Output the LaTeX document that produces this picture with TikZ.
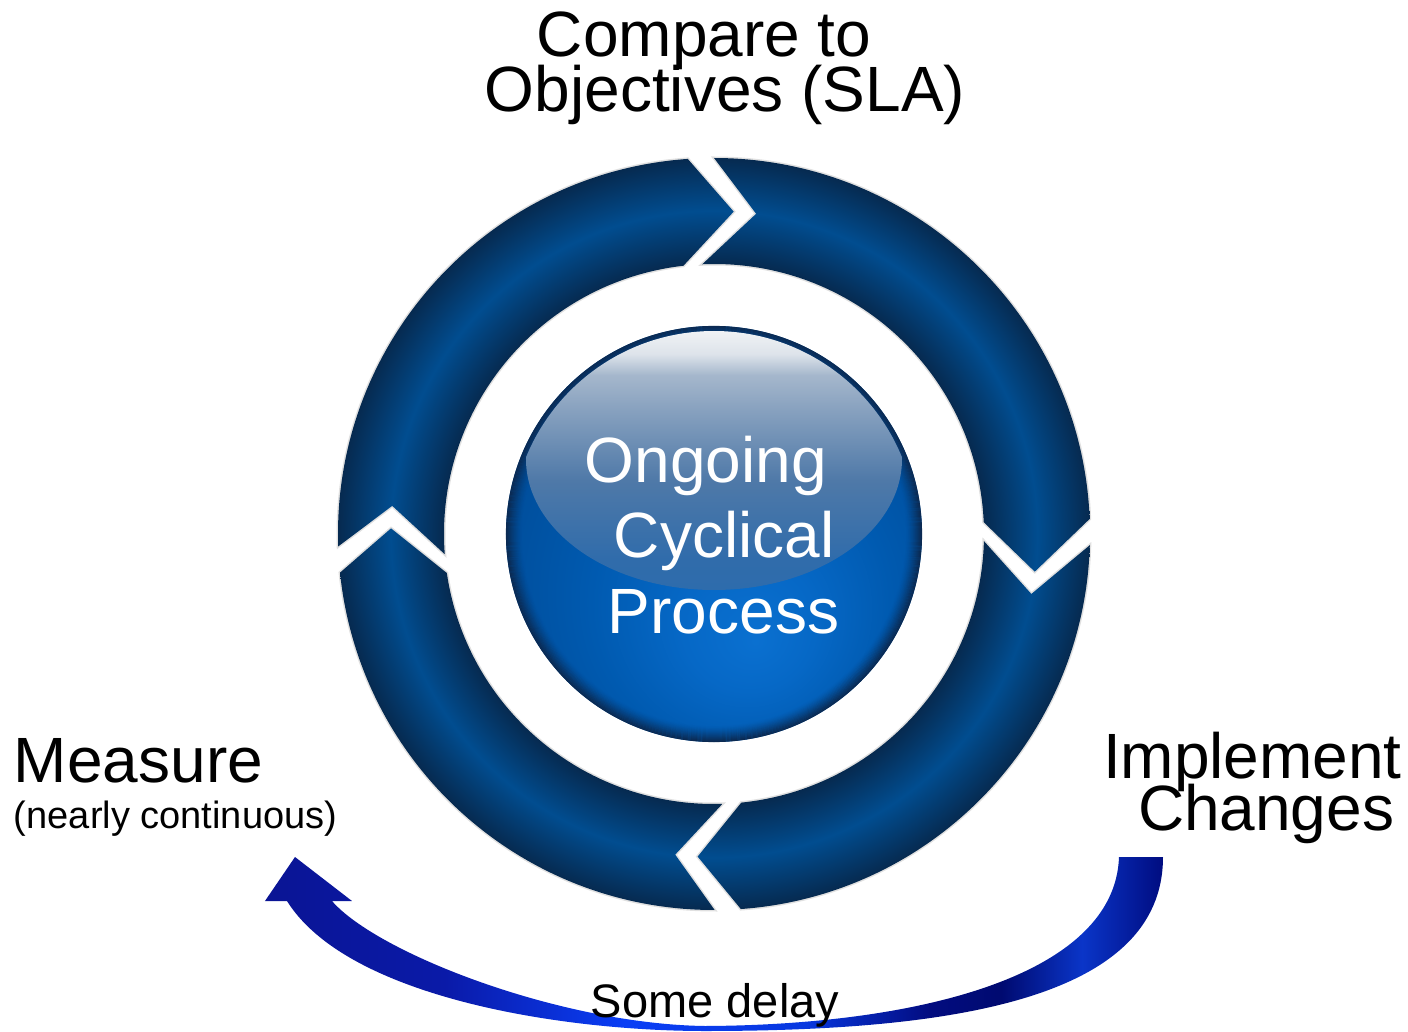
\documentclass[tikz,border=0pt]{standalone}
\usepackage{fontspec}
\setmainfont{Liberation Sans}
\definecolor{rE}{HTML}{062A50}
\definecolor{rM}{HTML}{014D90}
\definecolor{sA}{HTML}{0A70D0}
\definecolor{sB}{HTML}{0668C6}
\definecolor{sC}{HTML}{005AB0}
\definecolor{sD}{HTML}{004C98}
\definecolor{sE}{HTML}{003C80}
\definecolor{rim}{HTML}{0B2A52}
\definecolor{h1}{HTML}{2E6CAC}
\definecolor{h2}{HTML}{306CAB}
\definecolor{h3}{HTML}{4F79A8}
\definecolor{h4}{HTML}{8AA3C0}
\definecolor{h5}{HTML}{A5B7CC}
\definecolor{h6}{HTML}{DDE3EA}
\definecolor{h7}{HTML}{F2F4F6}
\definecolor{a1}{HTML}{0A1494}
\definecolor{a2}{HTML}{0A1AA8}
\definecolor{a3}{HTML}{0A3EF5}
\definecolor{a4}{HTML}{0838E0}
\definecolor{a5}{HTML}{020C80}
\definecolor{a6}{HTML}{000A70}
\definecolor{a7}{HTML}{0A35C8}
\definecolor{a8}{HTML}{000C80}
\pgfdeclareradialshading{ringsh}{\pgfpoint{0bp}{0bp}}{color(0bp)=(rE); color(17.95bp)=(rE); color(21.5bp)=(rM); color(25bp)=(rE); color(50bp)=(rE)}
\pgfdeclareradialshading{spheresh}{\pgfpoint{5bp}{-13bp}}{color(0bp)=(sA); color(8bp)=(sB); color(18bp)=(sC); color(30bp)=(sD); color(50bp)=(sE)}
\pgfdeclareverticalshading{hlsh}{100bp}{color(0bp)=(h1); color(25bp)=(h1); color(31bp)=(h2); color(46bp)=(h3); color(60bp)=(h4); color(66bp)=(h5); color(70bp)=(h6); color(75bp)=(h7); color(100bp)=(h7)}
\pgfdeclarehorizontalshading{arrsh}{100bp}{color(0bp)=(a1); color(25bp)=(a1); color(35bp)=(a2); color(45bp)=(a3); color(55bp)=(a4); color(62bp)=(a5); color(66bp)=(a6); color(70.5bp)=(a7); color(75bp)=(a8); color(100bp)=(a8)}
\newcommand\ringseg[6]{%
  \path[segline] ({#1-2}:376pt) arc[start angle={#1-2}, end angle={#4+2}, radius=376pt]
    -- ({#5+2}:323pt) -- ({#6+2}:270pt)
    arc[start angle={#6+2}, end angle={#3-2}, radius=270pt]
    -- ({#2-2}:323pt) -- cycle;
  \begin{scope}
    \clip ({#1-2}:376pt) arc[start angle={#1-2}, end angle={#4+2}, radius=376pt]
      -- ({#5+2}:323pt) -- ({#6+2}:270pt)
      arc[start angle={#6+2}, end angle={#3-2}, radius=270pt]
      -- ({#2-2}:323pt) -- cycle;
    \shade[shading=ringsh] (0,0) circle[radius=376pt];
  \end{scope}}
\begin{document}
\begin{tikzpicture}[x=1pt,y=1pt,
  segline/.style={draw=black!12, line width=3pt},
  lbl/.style={anchor=base west, inner sep=0pt, outer sep=0pt, text=black, font=\fontsize{64}{70}\selectfont},
  smalllbl/.style={lbl, font=\fontsize{38}{42}\selectfont},
  delaylbl/.style={lbl, font=\fontsize{47}{52}\selectfont},
  spherelbl/.style={lbl, text=white}]
\useasboundingbox (-714,-497) rectangle (694,534);
% ring segments
\ringseg{92}{84.5}{94.5}{0.3}{-8.7}{0.5}
\ringseg{0.3}{-8.7}{0.5}{-87.9}{-94.9}{-86.2}
\ringseg{-87.9}{-94.9}{-86.2}{-176.1}{-183}{-173.7}
\ringseg{-176.1}{-183}{-173.7}{-268}{-275.5}{-265.5}
% sphere
\shade[shading=spheresh] (0,0) circle[radius=208pt];
\foreach \i in {0,...,15}{
  \pgfmathsetmacro\op{(1-\i/16)^1.6}
  \draw[rim, line width=1.15pt, opacity=\op] (0,0) circle[radius={207.5-\i}];
}
\begin{scope}
  \clip (0,0) circle[radius=203pt];
  \shade[shading=hlsh] (0,75) ellipse[x radius=188pt, y radius=131pt];
\end{scope}
\node[spherelbl] (ongoing) at (-129,52) {Ongoing};
\node[spherelbl] (cyclical) at (-100,-23) {Cyclical};
\node[spherelbl] (process) at (-106,-99) {Process};
% outer labels
\node[lbl] (compare) at (-177,477) {Compare to};
\node[lbl] (objectives) at (-229,422) {Objectives (SLA)};
\node[lbl] (measure) at (-700,-248) {Measure};
\node[smalllbl] (nearly) at (-700,-294) {(nearly continuous)};
\node[lbl] (implement) at (389,-244) {Implement};
\node[lbl] (changes) at (424,-296) {Changes};
% curved arrow
\shade[shading=arrsh] (-427,-367) .. controls (-367,-463) and (-154,-497) .. (-9,-497)
  .. controls (236,-497) and (449,-466) .. (449,-323)
  -- (405,-323)
  .. controls (401,-441) and (206,-491) .. (-9,-492)
  .. controls (-154,-490) and (-337,-419) .. (-382,-367)
  -- (-362,-367) -- (-419,-323) -- (-449,-367) -- cycle;
\node[delaylbl] (delay) at (-123,-483) {Some delay};
\end{tikzpicture}
\end{document}
